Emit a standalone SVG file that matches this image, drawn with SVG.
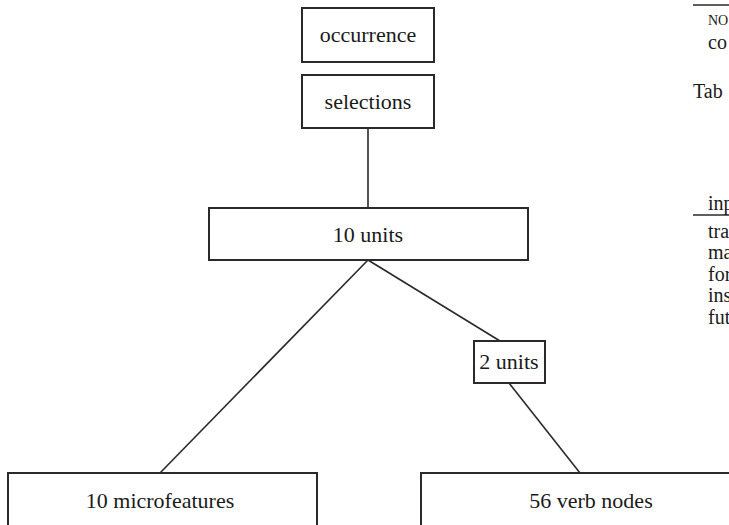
<svg xmlns="http://www.w3.org/2000/svg" width="729" height="525" viewBox="0 0 729 525">
<style>
.box{fill:#fff;stroke:#2a2a2a;stroke-width:2}
.lbl{font-family:"Liberation Serif","Times New Roman",serif;font-size:22px;fill:#1a1a1a;text-anchor:middle}
.side{font-family:"Liberation Serif","Times New Roman",serif;font-size:20px;fill:#1a1a1a}
.conn line{stroke:#2a2a2a;stroke-width:1.6}
</style>
<rect width="729" height="525" fill="#fff"/>
<g class="conn" id="connectors">
<line x1="368" y1="128" x2="368" y2="208"/>
<line x1="368" y1="260" x2="160" y2="473"/>
<line x1="368" y1="260" x2="500" y2="341"/>
<line x1="509" y1="383" x2="580" y2="473"/>
</g>
<g id="occurrence"><rect class="box" x="302" y="8" width="132" height="54"/><text class="lbl" x="368" y="42">occurrence</text></g>
<g id="selections"><rect class="box" x="302" y="75" width="132" height="53"/><text class="lbl" x="368" y="109">selections</text></g>
<g id="units10"><rect class="box" x="209" y="208" width="319" height="52"/><text class="lbl" x="368" y="242">10 units</text></g>
<g id="units2"><rect class="box" x="474" y="341" width="71" height="42"/><text class="lbl" x="509" y="369">2 units</text></g>
<g id="microfeatures"><rect class="box" x="8" y="473" width="309" height="70"/><text class="lbl" x="160" y="508">10 microfeatures</text></g>
<g id="verbnodes"><rect class="box" x="421" y="473" width="320" height="70"/><text class="lbl" x="591" y="508">56 verb nodes</text></g>
<g id="sidetext">
<line x1="693" y1="5" x2="729" y2="5" stroke="#2a2a2a" stroke-width="1.6"/>
<text class="side" x="708" y="25" style="font-size:14px">NO</text>
<text class="side" x="708" y="49">co</text>
<text class="side" x="693" y="98">Tab</text>
<text class="side" x="708" y="210">inp</text>
<line x1="693" y1="215" x2="729" y2="215" stroke="#2a2a2a" stroke-width="1.6"/>
<text class="side" x="708" y="238">tra</text>
<text class="side" x="708" y="259">ma</text>
<text class="side" x="708" y="281">for</text>
<text class="side" x="708" y="302">ins</text>
<text class="side" x="708" y="324">fut</text>
</g>
</svg>
